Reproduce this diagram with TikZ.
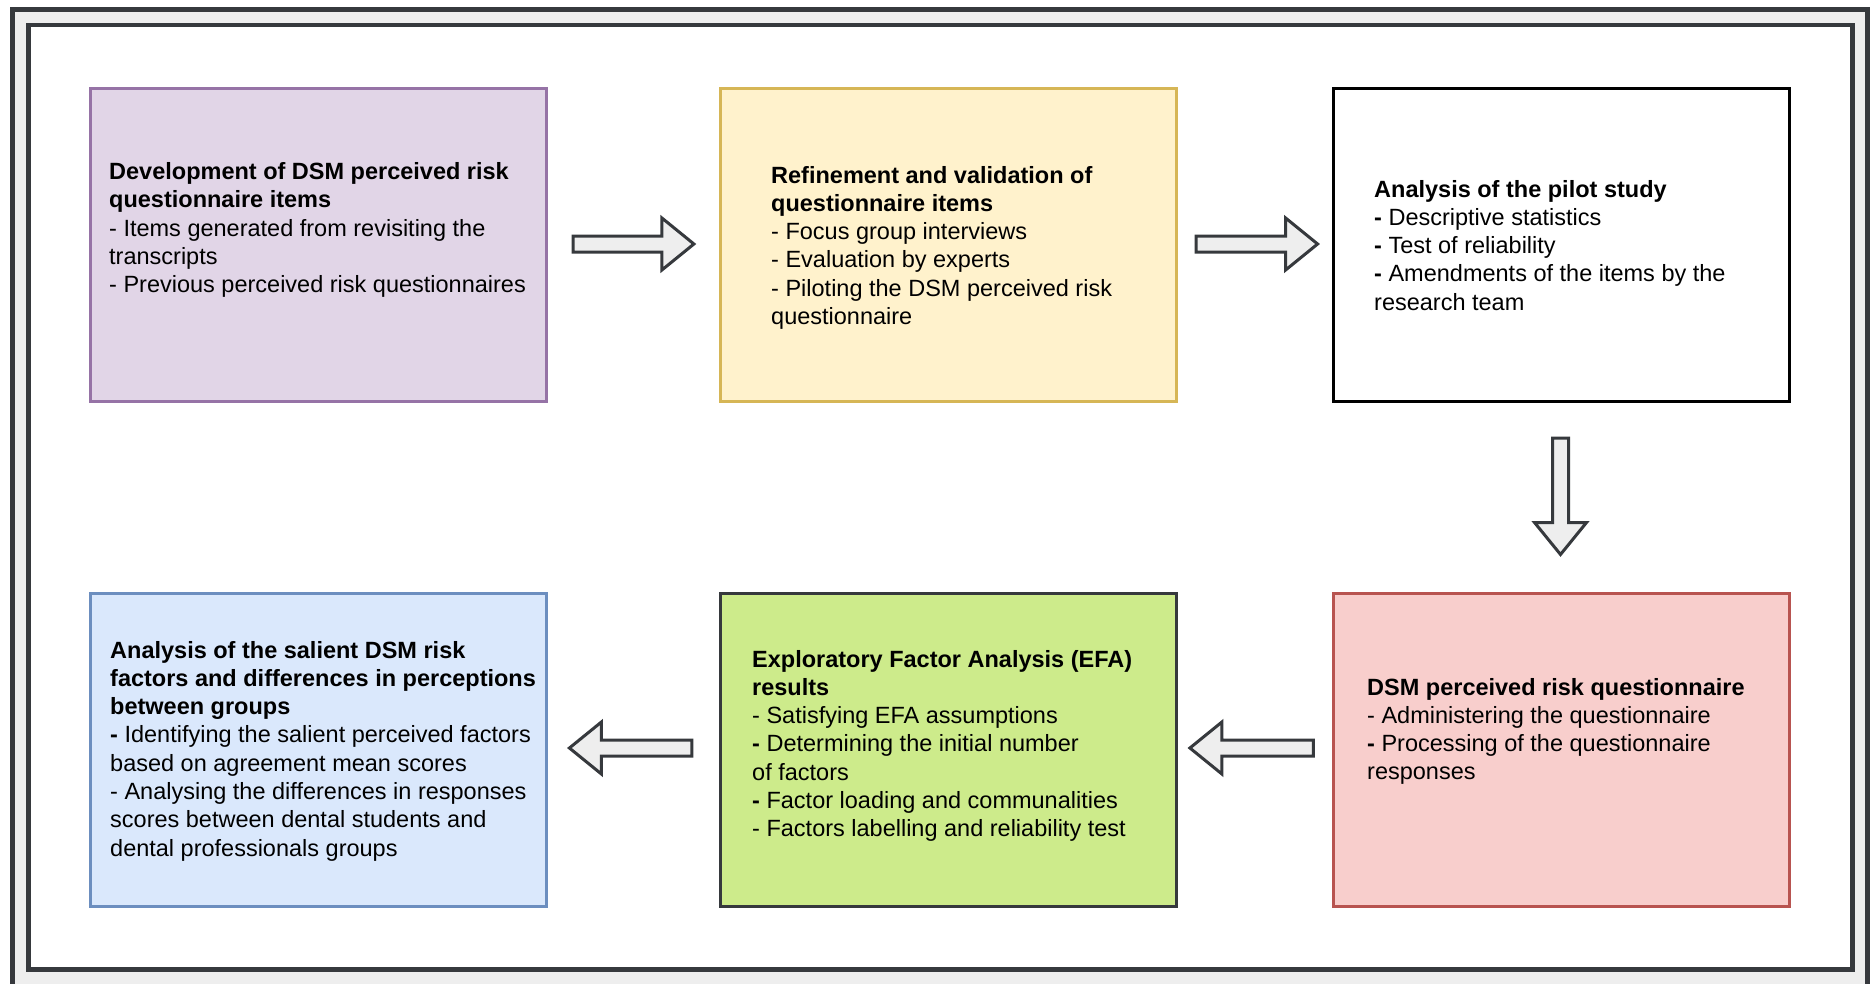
\documentclass[tikz,border=0pt]{standalone}
\usepackage{fontspec}
\setmainfont{Liberation Sans}
\usetikzlibrary{calc}

\definecolor{frameline}{HTML}{36393D}
\definecolor{framefill}{HTML}{EEEEEE}
\definecolor{purplefill}{HTML}{E1D5E7}
\definecolor{purpleline}{HTML}{9673A6}
\definecolor{yellowfill}{HTML}{FFF2CC}
\definecolor{yellowline}{HTML}{D6B656}
\definecolor{bluefill}{HTML}{DAE8FC}
\definecolor{blueline}{HTML}{6C8EBF}
\definecolor{greenfill}{HTML}{CDEB8B}
\definecolor{greenline}{HTML}{36393D}
\definecolor{redfill}{HTML}{F8CECC}
\definecolor{redline}{HTML}{B85450}

% block arrow from #1 (tail) to #2 (tip)
\newcommand\blockarrow[2]{%
  \draw[arrowbody]
    ($(#1)!8pt!90:(#2)$) --
    ($(#2)!32pt!(#1)!8pt!-90:(#1)$) --
    ($(#2)!32pt!(#1)!26pt!-90:(#1)$) --
    (#2) --
    ($(#2)!32pt!(#1)!26pt!90:(#1)$) --
    ($(#2)!32pt!(#1)!8pt!90:(#1)$) --
    ($(#1)!8pt!-90:(#2)$) -- cycle;}

\begin{document}
\begin{tikzpicture}[x=1pt,y=-1pt,
  stage/.style={draw, line width=3pt, minimum width=456pt, minimum height=313pt, inner sep=0pt},
  % anchored at the baseline of the last line
  body/.style={anchor=base west, align=left, inner sep=0pt, text=black,
    font=\fontsize{23.5pt}{28.3pt}\selectfont},
  arrowbody/.style={draw=frameline, fill=framefill, line width=3pt, line join=miter}]

\useasboundingbox (0,0) rectangle (1874,983);
\begin{scope}
  \clip (0,0) rectangle (1874,983);
  \draw[draw=frameline, fill=framefill, line width=4.5pt] (12.5,9.5) rectangle (1867.5,1010);
\end{scope}
\draw[draw=frameline, fill=white, line width=4.5pt] (28.5,25) rectangle (1852.5,969.5);

% stages
\node[stage, draw=purpleline, fill=purplefill] (b1) at (318.5,245) {};
\node[stage, draw=yellowline, fill=yellowfill] (b2) at (948,245) {};
\node[stage, draw=black, fill=white] (b3) at (1561.5,245) {};
\node[stage, draw=blueline, fill=bluefill] (b4) at (318.5,749.5) {};
\node[stage, draw=greenline, fill=greenfill] (b5) at (948,749.5) {};
\node[stage, draw=redline, fill=redfill] (b6) at (1561.5,749.5) {};

% texts
\node[body] (t1) at (109,292.7) {\textbf{Development of DSM perceived risk}\\
  \textbf{questionnaire items}\\
  - Items generated from revisiting the\\
  transcripts\\
  - Previous perceived risk questionnaires};
\node[body] (t2) at (771,324.5) {\textbf{Refinement and validation of}\\
  \textbf{questionnaire items}\\
  - Focus group interviews\\
  - Evaluation by experts\\
  - Piloting the DSM perceived risk\\
  questionnaire};
\node[body] (t3) at (1374,310.2) {\textbf{Analysis of the pilot study}\\
  \textbf{-} Descriptive statistics\\
  \textbf{-} Test of reliability\\
  \textbf{-} Amendments of the items by the\\
  research team};
\node[body] (t4) at (110,856.1) {\textbf{Analysis of the salient DSM risk}\\
  \textbf{factors and differences in perceptions}\\
  \textbf{between groups}\\
  \textbf{-} Identifying the salient perceived factors\\
  based on agreement mean scores\\
  - Analysing the differences in responses\\
  scores between dental students and\\
  dental professionals groups};
\node[body] (t5) at (752,836.8) {\textbf{Exploratory Factor Analysis (EFA)}\\
  \textbf{results}\\
  - Satisfying EFA assumptions\\
  \textbf{-} Determining the initial number\\
  of factors\\
  \textbf{-} Factor loading and communalities\\
  - Factors labelling and reliability test};
\node[body] (t6) at (1367,779.9) {\textbf{DSM perceived risk questionnaire}\\
  - Administering the questionnaire\\
  \textbf{-} Processing of the questionnaire\\
  responses};

% arrow ends
\coordinate (a1s) at ($(b1.east)+(25,-1)$);
\coordinate (a1e) at ($(b2.west)+(-24.6,-1)$);
\coordinate (a2s) at ($(b2.east)+(18.6,-1)$);
\coordinate (a2e) at ($(b3.west)+(-14.4,-1)$);
\coordinate (a3s) at ($(b3.south)+(-1,35)$);
\coordinate (a3e) at ($(b6.north)+(-1,-37)$);
\coordinate (a4s) at ($(b6.west)+(-18.6,-1.5)$);
\coordinate (a4e) at ($(b5.east)+(12.4,-1.5)$);
\coordinate (a5s) at ($(b5.west)+(-26.6,-1.5)$);
\coordinate (a5e) at ($(b4.east)+(21.4,-1.5)$);

\blockarrow{a1s}{a1e}
\blockarrow{a2s}{a2e}
\blockarrow{a3s}{a3e}
\blockarrow{a4s}{a4e}
\blockarrow{a5s}{a5e}
\end{tikzpicture}
\end{document}
